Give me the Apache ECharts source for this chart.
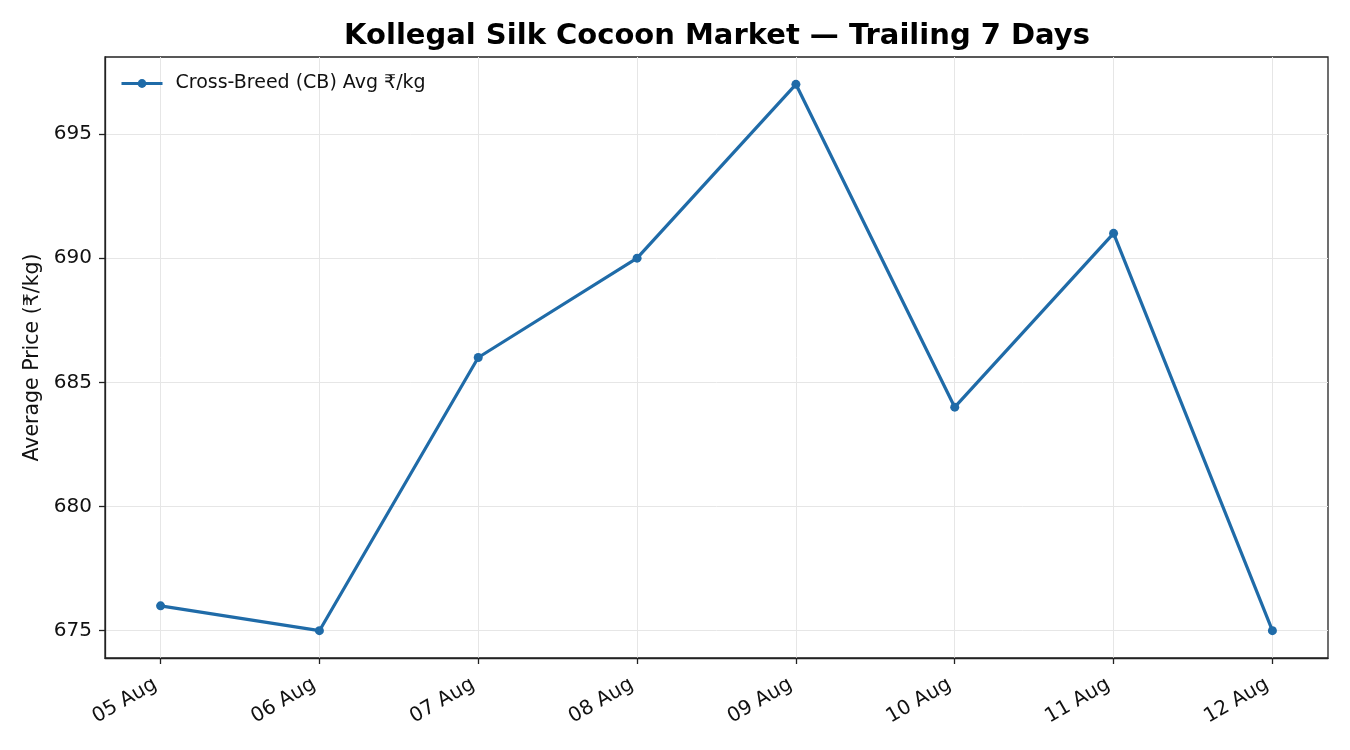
<!DOCTYPE html>
<html>
<head>
<meta charset="utf-8">
<script src="https://cdn.jsdelivr.net/npm/echarts@6/dist/echarts.min.js"></script>
<style>html,body{margin:0;padding:0;background:#fff}#c{width:1350px;height:750px}</style>
</head>
<body>
<div id="c"></div>
<script>
const categories = ['05 Aug','06 Aug','07 Aug','08 Aug','09 Aug','10 Aug','11 Aug','12 Aug'];
const cbAvg = [676, 675, 686, 690, 697, 684, 691, 675];
const yTicks = [675, 680, 685, 690, 695];
const seriesName = 'Cross-Breed (CB) Avg ₹/kg';

const xIdx = categories.map((_, i) => i);
const font = 'DejaVu Sans';
const color = '#1f6ba8';
const chart = echarts.init(document.getElementById('c'), null, {renderer: 'canvas'});
chart.setOption({
  animation: false,
  backgroundColor: '#fff',
  textStyle: {fontFamily: font},
  title: {
    text: 'Kollegal Silk Cocoon Market — Trailing 7 Days',
    left: 712, top: 17, textAlign: 'center',
    textStyle: {fontFamily: font, fontSize: 29, fontWeight: 'bold', color: '#000'}
  },
  legend: {
    left: 115, top: 69,
    itemWidth: 41, itemHeight: 11, itemGap: 10,
    lineStyle: {width: 3},
    textStyle: {fontFamily: font, fontSize: 19, color: '#111', padding: [0, 0, 0, 8]},
    data: [seriesName]
  },
  grid: {left: 105, right: 22, top: 57, bottom: 92, show: true, borderColor: '#222', borderWidth: 1.3},
  xAxis: {
    type: 'value', min: -0.35, max: 7.35,
    axisLine: {show: true, onZero: false, lineStyle: {color: '#222', width: 1.3}},
    axisTick: {show: true, length: 6, customValues: xIdx, lineStyle: {color: '#222', width: 1.3}},
    axisLabel: {customValues: xIdx, rotate: 30, fontSize: 20, color: '#111', margin: 22,
      padding: [0, 6, 0, 0],
      formatter: v => categories[Math.round(v)]},
    splitLine: {show: true, lineStyle: {color: '#e6e6e6', width: 1}}
  },
  yAxis: {
    type: 'value', min: 673.9, max: 698.1,
    name: 'Average Price (₹/kg)', nameLocation: 'middle', nameGap: 61,
    nameTextStyle: {fontFamily: font, fontSize: 20.5, color: '#111'},
    axisLine: {show: true, onZero: false, lineStyle: {color: '#222', width: 1.3}},
    axisTick: {show: true, length: 6, customValues: yTicks, lineStyle: {color: '#222', width: 1.3}},
    axisLabel: {customValues: yTicks, fontSize: 20, color: '#111', margin: 13},
    splitLine: {show: true, lineStyle: {color: '#e6e6e6', width: 1}}
  },
  series: [{
    name: seriesName,
    type: 'line',
    data: cbAvg.map((v, i) => [i, v]),
    symbol: 'circle', symbolSize: 9,
    lineStyle: {color: color, width: 3.2},
    itemStyle: {color: color},
    clip: false
  }]
});
</script>
</body>
</html>
